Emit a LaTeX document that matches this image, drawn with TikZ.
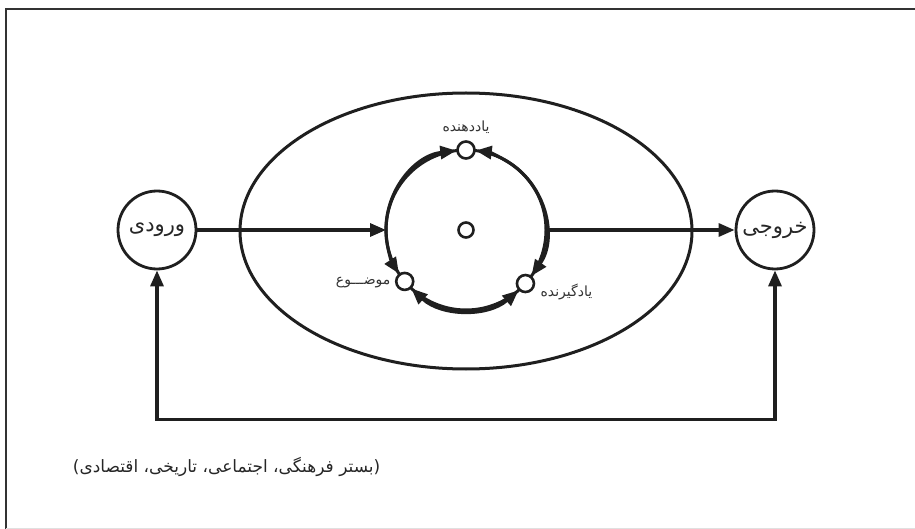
\documentclass[tikz,border=0pt]{standalone}
\usepackage{fontspec}
\newfontfamily\arabicfont[Script=Arabic]{DejaVu Sans}
\TeXXeTstate=1
\usetikzlibrary{arrows.meta,shapes.geometric}
\newcommand{\fa}[1]{\arabicfont\beginR #1\endR}
\begin{document}
\begin{tikzpicture}[x=1pt,y=-1pt,
  line width=3.2pt,
  linecol/.style={draw=black!88},
  tip/.style={linecol,-{Triangle[length=16pt,width=13pt]}},
  both/.style={linecol,{Triangle[length=16pt,width=13pt]}-{Triangle[length=16pt,width=13pt]}},
  bigcirc/.style={circle,draw=black!88,line width=2.8pt,minimum size=78pt,inner sep=0pt,font=\fontsize{21}{24}\selectfont,text=black!85},
  dot/.style={circle,draw=black!88,line width=2.6pt,minimum size=17pt,inner sep=0pt,fill=white},
  lbl/.style={font=\fontsize{14}{16}\selectfont,text=black!80}
]
\useasboundingbox (0,0) rectangle (915,529);
% frame
\draw[line width=2.2pt,black!80] (6,529) -- (6,9) -- (915,9);
\draw[line width=1pt,black!12] (6,528) -- (915,528);
% environment ellipse
\node[ellipse,draw=black!88,line width=3pt,minimum width=452pt,minimum height=276pt,inner sep=0pt] (env) at (466,231) {};
% core circle
\node[circle,draw=black!88,line width=3pt,minimum size=160pt,inner sep=0pt,outer sep=0pt] (core) at (466,230) {};
\node[dot,minimum size=15pt] (mid) at (core.center) {};
% input / output
\node[bigcirc] (in) at (157,230) {\fa{ورودی}};
\node[bigcirc] (out) at (775,230) {\fa{خروجی}};
% arcs on core
\draw[both] (core.97) arc[start angle=97,end angle=213,radius=80pt];
\draw[both] (core.227) arc[start angle=227,end angle=311,radius=80pt];
\draw[both] (core.325) arc[start angle=325,end angle=443,radius=80pt];
% small dots
\node[dot] (teach) at (core.90) {};
\node[dot] (topic) at (core.220) {};
\node[dot] (learn) at (core.318) {};
% labels
\node[lbl] (teachl) at (466,127) {\fa{یاددهنده}};
\node[lbl,anchor=east,inner sep=1pt] (topicl) at (393,283) {\fa{موضـــوع}};
\node[lbl,anchor=west,inner sep=1pt] (learnl) at (538,292) {\fa{یادگیرنده}};
% flows
\draw[tip] (in.east) -- (core.west);
\draw[tip] (core.east) -- (out.west);
\draw[both] (in.south) -- ++(0,149) -| (out.south);
% context
\node[anchor=west,font=\fontsize{17}{20}\selectfont,text=black!85] (ctx) at (68,467) {\fa{(بستر فرهنگی، اجتماعی، تاریخی، اقتصادی)}};
\end{tikzpicture}
\end{document}
